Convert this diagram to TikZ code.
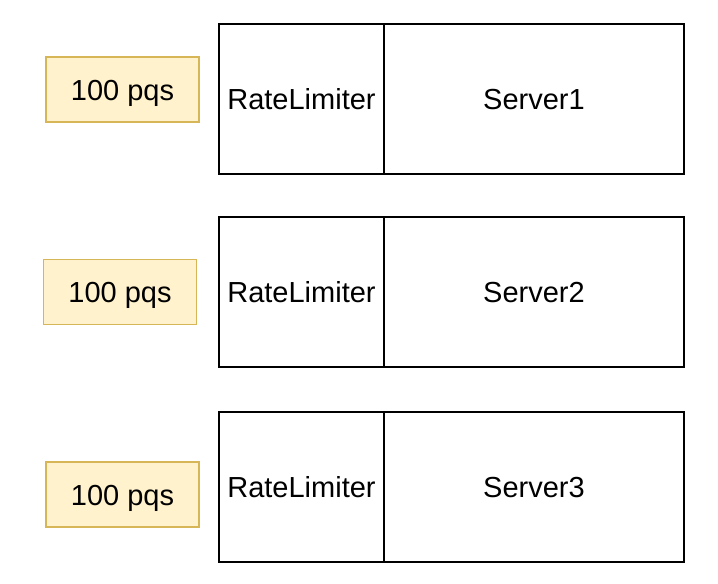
\documentclass[tikz,border=0pt]{standalone}
\usepackage{fontspec}
\setmainfont{Liberation Sans}
\usetikzlibrary{positioning}
\definecolor{q-fill}{HTML}{FFF2CC}
\definecolor{q-line}{HTML}{D6B656}

\begin{document}
\begin{tikzpicture}[x=1pt, y=-1pt, node distance=0pt,
                every node/.append style={font=\fontsize{29}{34}\selectfont, text height=21pt, text depth=0pt},
                rate/.style={draw=q-line, fill=q-fill, line width=1.5pt, minimum width=153pt, minimum height=65pt, inner sep=0pt},
                lim/.style={draw, line width=1.6pt, outer sep=0pt, minimum width=165pt, minimum height=150pt, inner sep=0pt},
                srv/.style={draw, line width=1.6pt, outer sep=0pt, minimum width=300pt, minimum height=150pt, inner sep=0pt}]
    \useasboundingbox (0,0) rectangle (718,584);

    \node [rate] (R1) at (122.5,89.5) {100 pqs};
    \node [lim] (L1) at (301.5,99) {RateLimiter};
    \node [srv, right=of L1] (S1) {Server1};

    \node [rate] (R2) at (120,292) {100 pqs};
    \node [lim] (L2) at (301.5,291.7) {RateLimiter};
    \node [srv, right=of L2] (S2) {Server2};

    \node [rate] (R3) at (122.5,494.5) {100 pqs};
    \node [lim] (L3) at (301.5,486.8) {RateLimiter};
    \node [srv, right=of L3] (S3) {Server3};
\end{tikzpicture}
\end{document}
